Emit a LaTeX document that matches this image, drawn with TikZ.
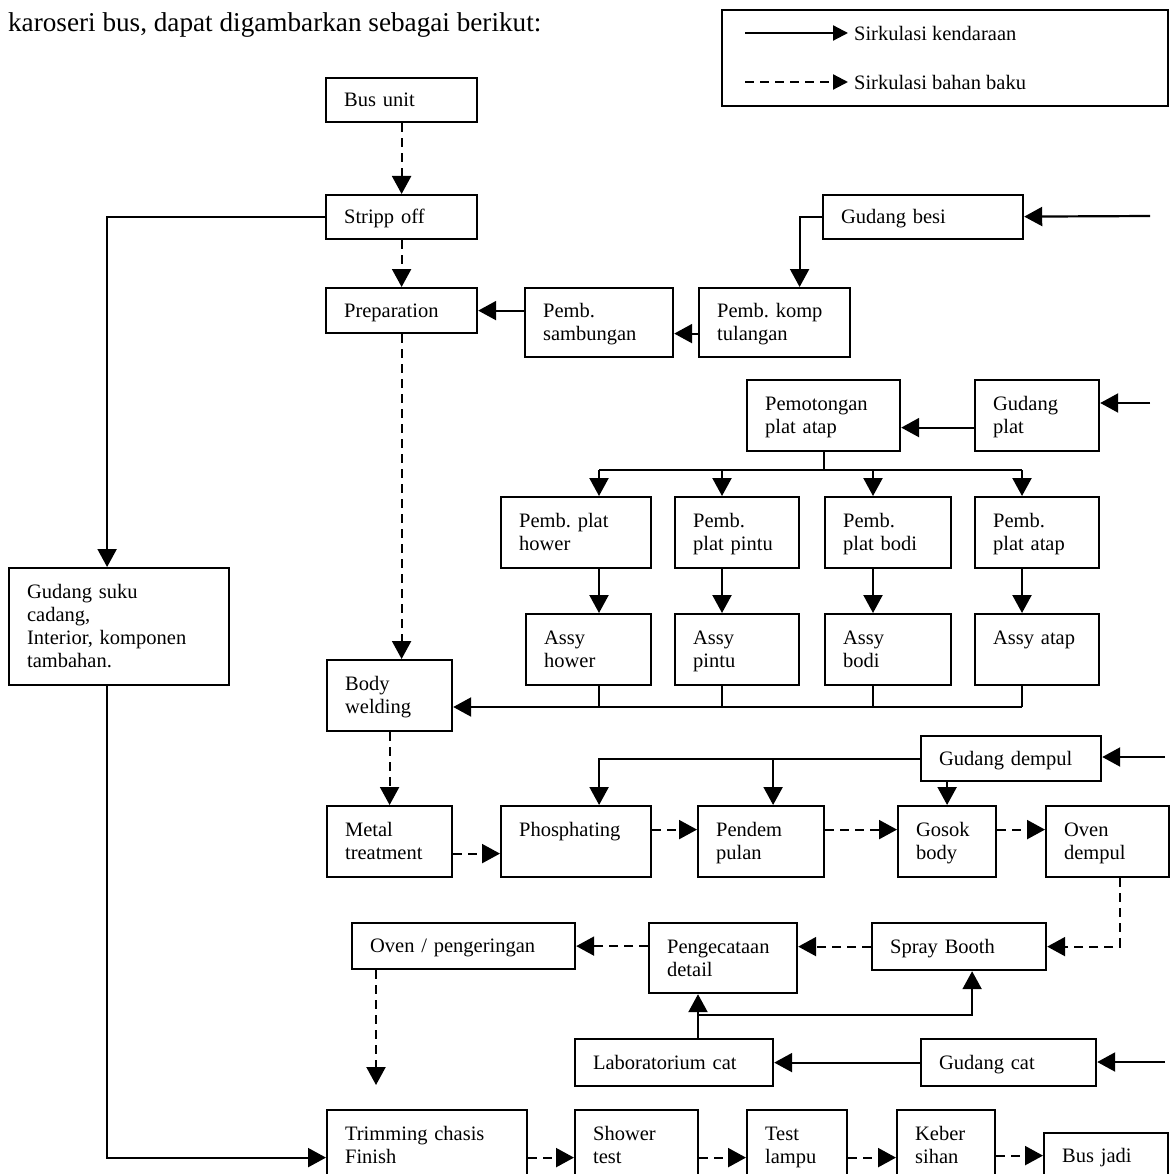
\documentclass[tikz,border=0pt]{standalone}
\usepackage{fontspec}
\setmainfont{Liberation Serif}
\usetikzlibrary{arrows.meta}
\frenchspacing
\newcommand\boxstrut{\rule[-5pt]{0pt}{23pt}}

\begin{document}
\begin{tikzpicture}[x=1pt, y=-1pt, line width=2.2pt,
  >={Triangle[length=18pt, width=19pt]},
  dashed/.style={dash pattern=on 9pt off 6pt},
  box/.style 2 args={draw, rectangle, anchor=north west, align=left, inner xsep=18pt, inner ysep=0pt,
    /utils/exec={\pgfmathsetmacro\boxtw{#1-36}}, text width=\boxtw pt, minimum height=#2pt,
    font=\fontsize{20.5}{23}\selectfont, execute at begin node=\boxstrut, execute at end node=\boxstrut},
  legtext/.style={anchor=west, inner sep=0pt, font=\fontsize{20.5}{23}\selectfont}]
  \useasboundingbox (0,0) rectangle (1171,1174);
  \clip (0,0) rectangle (1171,1174);

  % Title and legend
  \node[anchor=base west, inner sep=0pt, font=\fontsize{27.2}{30}\selectfont] (title) at (7,32) {karoseri bus, dapat digambarkan sebagai berikut:};
  \node[draw, anchor=north west, minimum width=446pt, minimum height=96pt, inner sep=0pt] (legend) at (721,9) {};
  \coordinate (solidA) at (745,33);
  \coordinate (solidB) at (848,33);
  \coordinate (dashA) at (745,82);
  \coordinate (dashB) at (848,82);
  \node[legtext] (solidtxt) at (853,33) {Sirkulasi kendaraan};
  \node[legtext] (dashtxt) at (853,82) {Sirkulasi bahan baku};
  \draw[-{Triangle[length=15pt, width=15pt]}] (solidA) -- (solidB);
  \draw[-{Triangle[length=15pt, width=15pt]}, dashed] (dashA) -- (dashB);

  % Nodes
  \node[box={151}{44}] (bus) at (325,77) {Bus unit};
  \node[box={151}{44}] (strip) at (325,194) {Stripp off};
  \node[box={151}{45}] (prep) at (325,287) {Preparation};
  \node[box={200}{44}] (besi) at (822,194) {Gudang besi};
  \node[box={151}{69}] (komp) at (698,287) {Pemb. komp\\tulangan};
  \node[box={148}{69}] (samb) at (524,287) {Pemb.\\sambungan};
  \node[box={153}{71}] (potong) at (746,379) {Pemotongan\\plat atap};
  \node[box={124}{71}] (gplat) at (974,379) {Gudang\\plat};
  \node[box={150}{71}] (pbhower) at (500,496) {Pemb. plat\\hower};
  \node[box={124}{71}] (pbpintu) at (674,496) {Pemb.\\plat pintu};
  \node[box={126}{71}] (pbbodi) at (824,496) {Pemb.\\plat bodi};
  \node[box={124}{71}] (pbatap) at (974,496) {Pemb.\\plat atap};
  \node[box={125}{71}] (ahower) at (525,613) {Assy\\hower};
  \node[box={124}{71}] (apintu) at (674,613) {Assy\\pintu};
  \node[box={126}{71}] (abodi) at (824,613) {Assy\\bodi};
  \node[box={124}{71}] (aatap) at (974,613) {Assy atap\\\mbox{}};
  \node[box={220}{117}] (suku) at (8,567) {Gudang suku\\cadang,\\Interior, komponen\\tambahan.};
  \node[box={125}{71}] (weld) at (326,659) {Body\\welding};
  \node[box={180}{45}] (dempul) at (920,735) {Gudang dempul};
  \node[box={125}{71}] (metal) at (326,805) {Metal\\treatment};
  \node[box={150}{71}] (phos) at (500,805) {Phosphating\\\mbox{}};
  \node[box={126}{71}] (pendem) at (697,805) {Pendem\\pulan};
  \node[box={98}{71}] (gosok) at (897,805) {Gosok\\body};
  \node[box={123}{71}] (ovend) at (1045,805) {Oven\\dempul};
  \node[box={223}{46}] (ovenp) at (351,922) {Oven / pengeringan};
  \node[box={148}{70}] (cat) at (648,922) {Pengecataan\\detail};
  \node[box={174}{47}] (spray) at (871,922) {Spray Booth};
  \node[box={198}{47}] (lab) at (574,1038) {Laboratorium cat};
  \node[box={175}{47}] (gcat) at (920,1038) {Gudang cat};
  \node[box={200}{71}] (trim) at (326,1109) {Trimming chasis\\Finish};
  \node[box={123}{71}] (shower) at (574,1109) {Shower\\test};
  \node[box={100}{71}] (lampu) at (746,1109) {Test\\lampu};
  \node[box={98}{71}] (keber) at (896,1109) {Keber\\sihan};
  \node[box={124}{45}] (jadi) at (1043,1132) {Bus jadi};

  % Free ends and branch points
  \coordinate (inbesi) at (1150,216);
  \coordinate (inplat) at (1150,403);
  \coordinate (indempul) at (1165,757);
  \coordinate (incat) at (1165,1062);
  \coordinate (c1) at (599,470);
  \coordinate (c2) at (722,470);
  \coordinate (c3) at (873,470);
  \coordinate (c4) at (1022,470);
  \coordinate (join) at (1022,707);
  \coordinate (ovenpend) at (376,1085);
  \coordinate (split) at (698,1015);

  % Connections
  \draw[->, dashed] (bus) -- (strip);
  \draw[->, dashed] (strip) -- (prep);
  \draw[->] (strip.west) -| ([xshift=-12pt]suku.north);
  \draw[->] (inbesi) -- (besi);
  \draw[->] (besi.west) -| ([xshift=25pt]komp.north);
  \draw[->] ([yshift=-11pt]komp.west) -- ([yshift=-11pt]samb.east);
  \draw[->] (samb.west |- prep.east) -- (prep.east);
  \draw[->, dashed] (prep.south) -- (prep.south |- weld.north);

  \draw[->] (inplat) -- (inplat -| gplat.east);
  \draw[->] ([yshift=-12pt]gplat.west) -- ([yshift=-12pt]potong.east);
  \draw (potong.south) -- (potong.south |- c1);
  \draw (c1) -- (c4);
  \draw[->] (c1) -- (c1 |- pbhower.north);
  \draw[->] (c2) -- (c2 |- pbpintu.north);
  \draw[->] (c3) -- (c3 |- pbbodi.north);
  \draw[->] (c4) -- (c4 |- pbatap.north);
  \draw[->] (c1 |- pbhower.south) -- (c1 |- ahower.north);
  \draw[->] (c2 |- pbpintu.south) -- (c2 |- apintu.north);
  \draw[->] (c3 |- pbbodi.south) -- (c3 |- abodi.north);
  \draw[->] (c4 |- pbatap.south) -- (c4 |- aatap.north);
  \draw (c1 |- ahower.south) -- (c1 |- join);
  \draw (c2 |- apintu.south) -- (c2 |- join);
  \draw (c3 |- abodi.south) -- (c3 |- join);
  \draw (join |- aatap.south) -- (join);
  \draw[->] (join) -- (join -| weld.east);
  \draw[->, dashed] (weld) -- (metal);

  \draw[->] (indempul) -- (indempul -| dempul.east);
  \draw[->] (dempul.west) -| ([xshift=23pt]phos.north);
  \draw[->] ([xshift=12pt]pendem.north |- dempul.west) -- ([xshift=12pt]pendem.north);
  \draw[->] (dempul.south -| gosok.north) -- (gosok.north);
  \draw[->, dashed] ([yshift=-12pt]metal.east) -- ([yshift=-12pt]phos.west);
  \draw[->, dashed] ([yshift=12pt]phos.east) -- ([yshift=12pt]pendem.west);
  \draw[->, dashed] ([yshift=12pt]pendem.east) -- ([yshift=12pt]gosok.west);
  \draw[->, dashed] ([yshift=12pt]gosok.east) -- ([yshift=12pt]ovend.west);

  \draw[->, dashed] ([xshift=12pt]ovend.south) |- (spray.east);
  \draw[->, dashed] (spray.west) -- (spray.west -| cat.east);
  \draw[->, dashed] (cat.west |- ovenp.east) -- (ovenp.east);
  \draw[->, dashed] (ovenp.south -| ovenpend) -- (ovenpend);
  \draw[->] (lab.north -| split) -- (cat.south -| split);
  \draw[->] (split) -| ([xshift=13pt]spray.south);
  \draw[->] (incat) -- (incat -| gcat.east);
  \draw[->] (gcat) -- (lab);

  \draw[->] ([xshift=-12pt]suku.south) |- ([yshift=-12pt]trim.west);
  \draw[->, dashed] ([yshift=-12pt]trim.east) -- ([yshift=-12pt]shower.west);
  \draw[->, dashed] ([yshift=-12pt]shower.east) -- ([yshift=-12pt]lampu.west);
  \draw[->, dashed] ([yshift=-12pt]lampu.east) -- ([yshift=-12pt]keber.west);
  \draw[->, dashed] (keber.east |- jadi.west) -- (jadi.west);
\end{tikzpicture}
\end{document}
